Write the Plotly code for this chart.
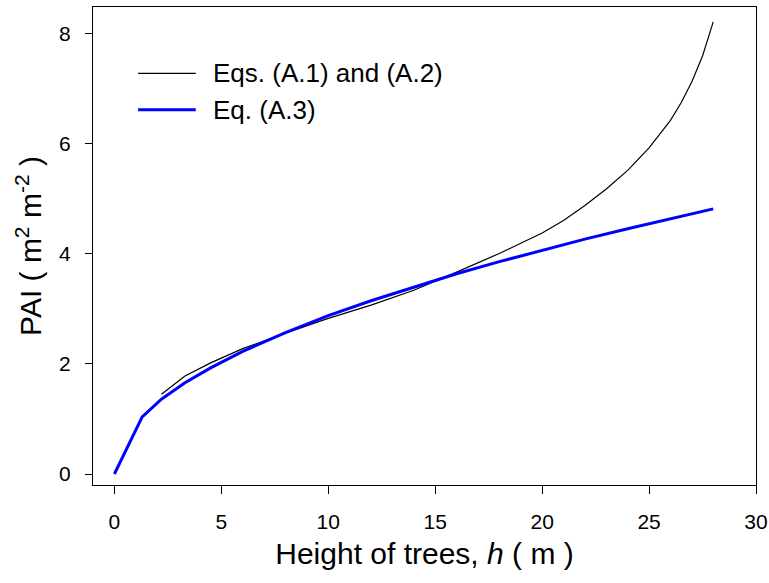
import plotly.graph_objects as go

# Eqs. (A.1) and (A.2)
h_a12 = [2.2, 3.3, 4.5, 6, 8, 10, 12, 14, 16, 18, 20, 21, 22, 23, 24, 25, 26, 26.5, 27, 27.5, 28]
pai_a12 = [1.45, 1.78, 2.02, 2.28, 2.56, 2.83, 3.07, 3.34, 3.67, 4.01, 4.38, 4.61, 4.88, 5.18, 5.52, 5.93, 6.43, 6.75, 7.13, 7.6, 8.22]

# Eq. (A.3)
h_a3 = [0, 1.3, 2.2, 3.3, 4.5, 6, 8, 10, 12, 14, 16, 18, 20, 22, 24, 26, 28]
pai_a3 = [0, 1.04, 1.36, 1.66, 1.93, 2.23, 2.57, 2.88, 3.15, 3.40, 3.64, 3.86, 4.07, 4.27, 4.46, 4.64, 4.82]

x_ticks = [0, 5, 10, 15, 20, 25, 30]
y_ticks = [0, 2, 4, 6, 8]

legend_names = ["Eqs. (A.1) and (A.2)", "Eq. (A.3)"]
colors = ["#000000", "#0000ff"]
widths = [1.2, 3]

FONT = "Liberation Sans, Arial, sans-serif"

fig = go.Figure()
fig.add_trace(go.Scatter(x=h_a12, y=pai_a12, mode="lines",
                         line=dict(color=colors[0], width=widths[0]),
                         name=legend_names[0], showlegend=False))
fig.add_trace(go.Scatter(x=h_a3, y=pai_a3, mode="lines",
                         line=dict(color=colors[1], width=widths[1]),
                         name=legend_names[1], showlegend=False))

# manual legend
leg_y = [0.861, 0.785]
for name, c, w, yy in zip(legend_names, colors, widths, leg_y):
    fig.add_shape(type="line", xref="paper", yref="paper",
                  x0=0.068, x1=0.155, y0=yy, y1=yy,
                  line=dict(color=c, width=w))
    fig.add_annotation(xref="paper", yref="paper", x=0.178, y=yy,
                       text=name, showarrow=False, xanchor="left", yanchor="middle",
                       font=dict(size=26, color="#000000", family=FONT))

fig.update_layout(
    width=769, height=583,
    margin=dict(l=93, r=13, t=7, b=98),
    paper_bgcolor="white", plot_bgcolor="white",
    font=dict(family=FONT, color="#000000"),
)
fig.update_xaxes(
    range=[-1.0, 30.0], tickvals=x_ticks, ticktext=[str(v) for v in x_ticks],
    showgrid=False, zeroline=False, automargin=False,
    showline=True, mirror=True, linecolor="#000000", linewidth=1,
    ticks="outside", ticklen=8, tickcolor="#000000", tickwidth=1,
    tickfont=dict(size=21, family=FONT), ticklabelstandoff=10,
    title=dict(text="Height of trees, <i>h</i> ( m )", font=dict(size=30, family=FONT), standoff=10),
)
fig.update_yaxes(
    range=[-0.2, 8.49], tickvals=y_ticks, ticktext=[str(v) for v in y_ticks],
    showgrid=False, zeroline=False, automargin=False,
    showline=True, mirror=True, linecolor="#000000", linewidth=1,
    ticks="outside", ticklen=7, tickcolor="#000000", tickwidth=1,
    tickfont=dict(size=21, family=FONT), ticklabelstandoff=10,
    title=dict(text="PAI ( m<sup>2</sup> m<sup>-2</sup> )", font=dict(size=30, family=FONT), standoff=8),
)

fig.write_html("out.html", config={"displayModeBar": False},
               post_script="document.body.style.margin='0px';")
